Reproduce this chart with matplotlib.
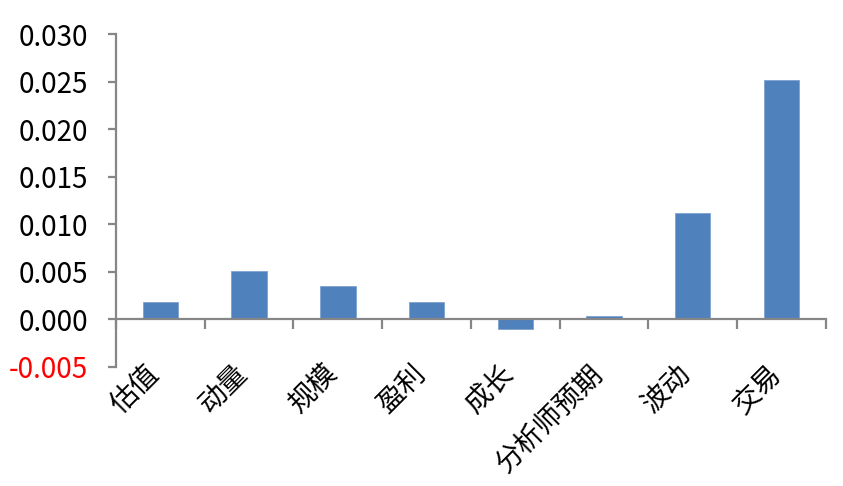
import matplotlib.pyplot as plt
import matplotlib.transforms as mtransforms

plt.rcParams['font.family'] = ['Noto Sans CJK SC', 'DejaVu Sans']

# Data
categories = ["估值", "动量", "规模", "盈利", "成长", "分析师预期", "波动", "交易"]
values = [0.0018, 0.0051, 0.0035, 0.0018, -0.0010, 0.0004, 0.0112, 0.0252]
y_ticks = [-0.005, 0.000, 0.005, 0.010, 0.015, 0.020, 0.025, 0.030]

fig = plt.figure(figsize=(8.43, 4.86), dpi=100)
ax = fig.add_axes([0.1376, 0.245, 0.842, 0.685])

x = list(range(len(categories)))
ax.bar(x, values, width=0.4, color="#4F81BD", edgecolor="#7EA3D1", linewidth=0.6, zorder=2)

ax.set_xlim(-0.5, len(categories) - 0.5)
ax.set_ylim(-0.005, 0.030)

grey = "#868686"
for s in ["top", "right"]:
    ax.spines[s].set_visible(False)
ax.spines["left"].set_color(grey)
ax.spines["left"].set_linewidth(1.6)
ax.spines["bottom"].set_position(("data", 0))
ax.spines["bottom"].set_color(grey)
ax.spines["bottom"].set_linewidth(1.6)
ax.spines["bottom"].set_zorder(3)

ax.set_yticks(y_ticks)
ax.set_yticklabels([f"{v:.3f}" for v in y_ticks])
ax.tick_params(axis="y", direction="out", length=6, width=1.6, color=grey,
               labelsize=20, pad=14)
ax.get_yticklabels()[0].set_color("red")

# tick marks between categories, no labels on the axis itself
ax.set_xticks([i + 0.5 for i in range(-1, len(categories))])
ax.set_xticklabels([])
ax.tick_params(axis="x", direction="out", length=7, width=1.6, color=grey)

# rotated category names below the plot area
trans = mtransforms.blended_transform_factory(ax.transData, ax.transAxes)
for i, name in enumerate(categories):
    ax.text(i + 0.06, 0.025, name, transform=trans,
            rotation=45, ha="right", va="top", fontsize=20)

fig.savefig("out.png", dpi=100)
